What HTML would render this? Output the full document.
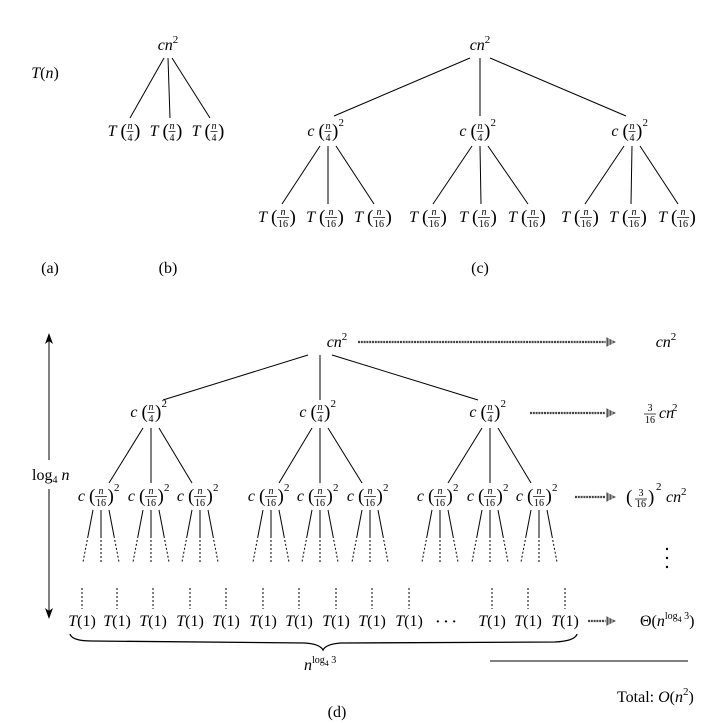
<!DOCTYPE html>
<html><head><meta charset="utf-8"><style>
body{margin:0;background:#fff}
svg{display:block;font-family:"Liberation Serif",serif}
text{fill:#000}
</style></head><body>
<svg id="s" width="715" height="723" viewBox="0 0 715 723" xmlns="http://www.w3.org/2000/svg"></svg>
<script>
const NS="http://www.w3.org/2000/svg";
const S=document.getElementById('s');
// diagram data
const bLeaves=[126,168,210];
const cMid=[328,480,632];
const cLeaves=[[277,325,373],[428,478,527],[580,628,677]];
const dMid=[151,320,490];
const dLeaves=[[101,151,200],[271,320,370],[440,490,539]];
const t1Pos=[82,117,153,190,226,263,299,336,372,409,492,528,565];
const levelCosts=["cn²","3/16 cn²","(3/16)² cn²","Θ"];

function el(tag,attrs,parent,name){const e=document.createElementNS(NS,tag);for(const k in attrs)e.setAttribute(k,attrs[k]);(parent||S).appendChild(e);


return e;}
function txt(x,y,s,size,opts,name){const o=Object.assign({x:x,y:y,'font-size':size||16},opts||{});const t=el('text',o,null,name||'label');t.textContent=s;return t;}
function line(x1,y1,x2,y2,dash,name,w){return el('line',{x1,y1,x2,y2,stroke:'#000','stroke-width':w||1,'stroke-dasharray':dash||'none'},null,name||'edge');}
function frac(prefix,cx,y,den,sup,name){
  const w=den.length==1?7:12;
  const g=el('g',{},null,name||'node');
  const mk=(x,yy,s,size,extra)=>{const t=el('text',Object.assign({x:x,y:yy,'font-size':size},extra||{}),g,'node-text');t.textContent=s;};
  mk(cx-w/2-10,y,prefix,16,{'text-anchor':'end','font-style':'italic'});
  mk(cx-w/2-6,y+1,'(',19,{'text-anchor':'start'});
  mk(cx+w/2+0.5,y+1,')',19,{'text-anchor':'start'});
  mk(cx,y-7,'n',10,{'text-anchor':'middle','font-style':'italic'});
  mk(cx,y+5,den,10,{'text-anchor':'middle'});
  el('line',{x1:cx-w/2,x2:cx+w/2,y1:y-4.5,y2:y-4.5,stroke:'#000','stroke-width':0.7},g,'fraction-bar');
  if(sup) mk(cx+w/2+7,y-10,'2',11,{});
}
function cn2(cx,y,name){const t=txt(cx,y,'',16,{'text-anchor':'middle'},name);
  const a=document.createElementNS(NS,'tspan');a.setAttribute('font-style','italic');a.textContent='cn';t.appendChild(a);
  const b=document.createElementNS(NS,'tspan');b.setAttribute('dy','-7');b.setAttribute('font-size','11');b.textContent='2';t.appendChild(b);}
function dotArrow(x1,x2,y,name){
  const g=el('g',{},null,name||'level-arrow');
  el('line',{x1:x1,x2:x2-8,y1:y,y2:y,stroke:'#444','stroke-width':2.2,'stroke-dasharray':'2,0.8'},g,'arrow-shaft');
  el('polygon',{points:`${x2-10},${y-5} ${x2},${y} ${x2-10},${y+5}`,fill:'#555'},g,'arrow-head');
  for(let i=0;i<3;i++) el('line',{x1:x2-10+i*3,x2:x2-10+i*3,y1:y-5,y2:y+5,stroke:'#fff','stroke-width':0.8},g,'arrow-hatch');
}
function T1(cx,y){const t=txt(cx,y,'',16,{'text-anchor':'middle'},'leaf-t1');
  const a=document.createElementNS(NS,'tspan');a.setAttribute('font-style','italic');a.textContent='T';t.appendChild(a);
  const b=document.createElementNS(NS,'tspan');b.textContent='(1)';t.appendChild(b);}

// (a)
{const t=txt(45,78,'',16,{'text-anchor':'middle'},'tn-root');const a=document.createElementNS(NS,'tspan');a.setAttribute('font-style','italic');a.textContent='T';t.appendChild(a);const b=document.createElementNS(NS,'tspan');b.textContent='(';t.appendChild(b);const c=document.createElementNS(NS,'tspan');c.setAttribute('font-style','italic');c.textContent='n';t.appendChild(c);const d=document.createElementNS(NS,'tspan');d.textContent=')';t.appendChild(d);}
txt(50,273,'(a)',16,{'text-anchor':'middle'},'caption-a');
// (b)
cn2(168,50,'b-root');
bLeaves.forEach((x,i)=>{line(168+(i-1)*4,58,x+(i-1)*-2+2,118,null,'b-edge');frac('T',x+4,136,'4',false,'b-leaf');});
txt(168,273,'(b)',16,{'text-anchor':'middle'},'caption-b');
// (c)
cn2(480,50,'c-root');
cMid.forEach((x,i)=>{line(480+(i-1)*10,58,x+(i-1)*-6,116,null,'c-edge');frac('c',x,136,'4',true,'c-child');
  cLeaves[i].forEach((lx,j)=>{line(x+(j-1)*8,146,lx+3+(j-1)*-2,204,null,'c-edge2');frac('T',lx+6,222,'16',false,'c-leaf');});});
txt(480,273,'(c)',16,{'text-anchor':'middle'},'caption-c');
// (d)
cn2(337,347,'d-root');
dMid.forEach((x,i)=>{line(320+(i-1)*12,355,x+(i-1)*-12,400,null,'d-edge');frac('c',x,417,'4',true,'d-child');
  dLeaves[i].forEach((lx,j)=>{line(x+(j-1)*8,428,lx+(j-1)*-8,483,null,'d-edge2');frac('c',lx,501,'16',true,'d-grandchild');
    [-1,0,1].forEach(k=>{const x1=lx+k*8,x2=lx+k*18;line(x1,510,(x1+x2)/2,536,null,'fan-edge');line((x1+x2)/2,536,x2,562,'2,2','fan-edge-dashed');});});});
t1Pos.forEach(x=>{line(x,588,x,609,'2,2','leaf-dash');T1(x,626);});
txt(446,626,'· · ·',14,{'text-anchor':'middle','font-weight':'bold'},'ellipsis');
// level arrows & costs
dotArrow(358,616,342,'arrow-level0');cn2(666,347,'cost-level0');
dotArrow(530,616,413,'arrow-level1');
txt(659,418,'cn',16,{'font-style':'italic'},'cost-level1');txt(672,411,'2',11,{},'cost-level1-sup');
txt(650,411,'3',10,{'text-anchor':'middle'},'frac-num');txt(650,423,'16',10,{'text-anchor':'middle'},'frac-den');line(644,414,656,414,null,'frac-bar',0.7);
dotArrow(575,616,497,'arrow-level2');
txt(626,503,'(',19,{},'paren');txt(648,503,')',19,{},'paren');
txt(641,496,'3',10,{'text-anchor':'middle'},'frac-num');txt(641,507,'16',10,{'text-anchor':'middle'},'frac-den');line(635,499,647,499,null,'frac-bar',0.7);
txt(656,490,'2',11,{},'sup');txt(666,502,'cn',16,{'font-style':'italic'},'cost-level2');txt(681,495,'2',11,{},'sup');
[549,558,567].forEach(y=>el('circle',{cx:667,cy:y,r:1.2,fill:'#000'},null,'vdot'));
dotArrow(588,616,621,'arrow-leaves');
{const t=txt(640,626,'Θ(',16,{},'cost-leaves');const a=document.createElementNS(NS,'tspan');a.setAttribute('font-style','italic');a.textContent='n';t.appendChild(a);
 const b=document.createElementNS(NS,'tspan');b.setAttribute('dy','-7');b.setAttribute('font-size','10');b.textContent='log';t.appendChild(b);
 const c=document.createElementNS(NS,'tspan');c.setAttribute('dy','3');c.setAttribute('font-size','8');c.textContent='4';t.appendChild(c);
 const d=document.createElementNS(NS,'tspan');d.setAttribute('dy','-3');d.setAttribute('font-size','10');d.textContent=' 3';t.appendChild(d);
 const e=document.createElementNS(NS,'tspan');e.setAttribute('dy','7');e.textContent=')';t.appendChild(e);}
line(490,661,688,661,null,'total-rule');
{const t=txt(617,702,'Total: ',16,{},'total');const a=document.createElementNS(NS,'tspan');a.setAttribute('font-style','italic');a.textContent='O';t.appendChild(a);
 const b=document.createElementNS(NS,'tspan');b.textContent='(';t.appendChild(b);const c=document.createElementNS(NS,'tspan');c.setAttribute('font-style','italic');c.textContent='n';t.appendChild(c);
 const d=document.createElementNS(NS,'tspan');d.setAttribute('dy','-7');d.setAttribute('font-size','11');d.textContent='2';t.appendChild(d);
 const e=document.createElementNS(NS,'tspan');e.setAttribute('dy','7');e.textContent=')';t.appendChild(e);}
// height arrow
line(49,340,49,460,null,'height-arrow');line(49,489,49,612,null,'height-arrow');
el('polygon',{points:'49,333 45,344 49,341 53,344',fill:'#000'},null,'arrow-up');
el('polygon',{points:'49,619 45,608 49,611 53,608',fill:'#000'},null,'arrow-down');
{const t=txt(32,480,'log',16,{},'height-label');const a=document.createElementNS(NS,'tspan');a.setAttribute('dy','3');a.setAttribute('font-size','10');a.textContent='4';t.appendChild(a);
 const b=document.createElementNS(NS,'tspan');b.setAttribute('dy','-3');b.setAttribute('font-style','italic');b.textContent=' n';t.appendChild(b);}
// brace
el('path',{d:'M70,634 Q72,641 92,641 L305,643 Q320,644 323,650 Q326,644 341,643 L555,642 Q575,641 577,634',fill:'none',stroke:'#000','stroke-width':1.3},null,'leaf-brace');
{const t=txt(304,670,'',16,{},'leaf-count');const a=document.createElementNS(NS,'tspan');a.setAttribute('font-style','italic');a.textContent='n';t.appendChild(a);
 const b=document.createElementNS(NS,'tspan');b.setAttribute('dy','-7');b.setAttribute('font-size','10');b.textContent='log';t.appendChild(b);
 const c=document.createElementNS(NS,'tspan');c.setAttribute('dy','3');c.setAttribute('font-size','8');c.textContent='4';t.appendChild(c);
 const d=document.createElementNS(NS,'tspan');d.setAttribute('dy','-3');d.setAttribute('font-size','10');d.textContent=' 3';t.appendChild(d);}
txt(337,717,'(d)',16,{'text-anchor':'middle'},'caption-d');
</script>
</body></html>
